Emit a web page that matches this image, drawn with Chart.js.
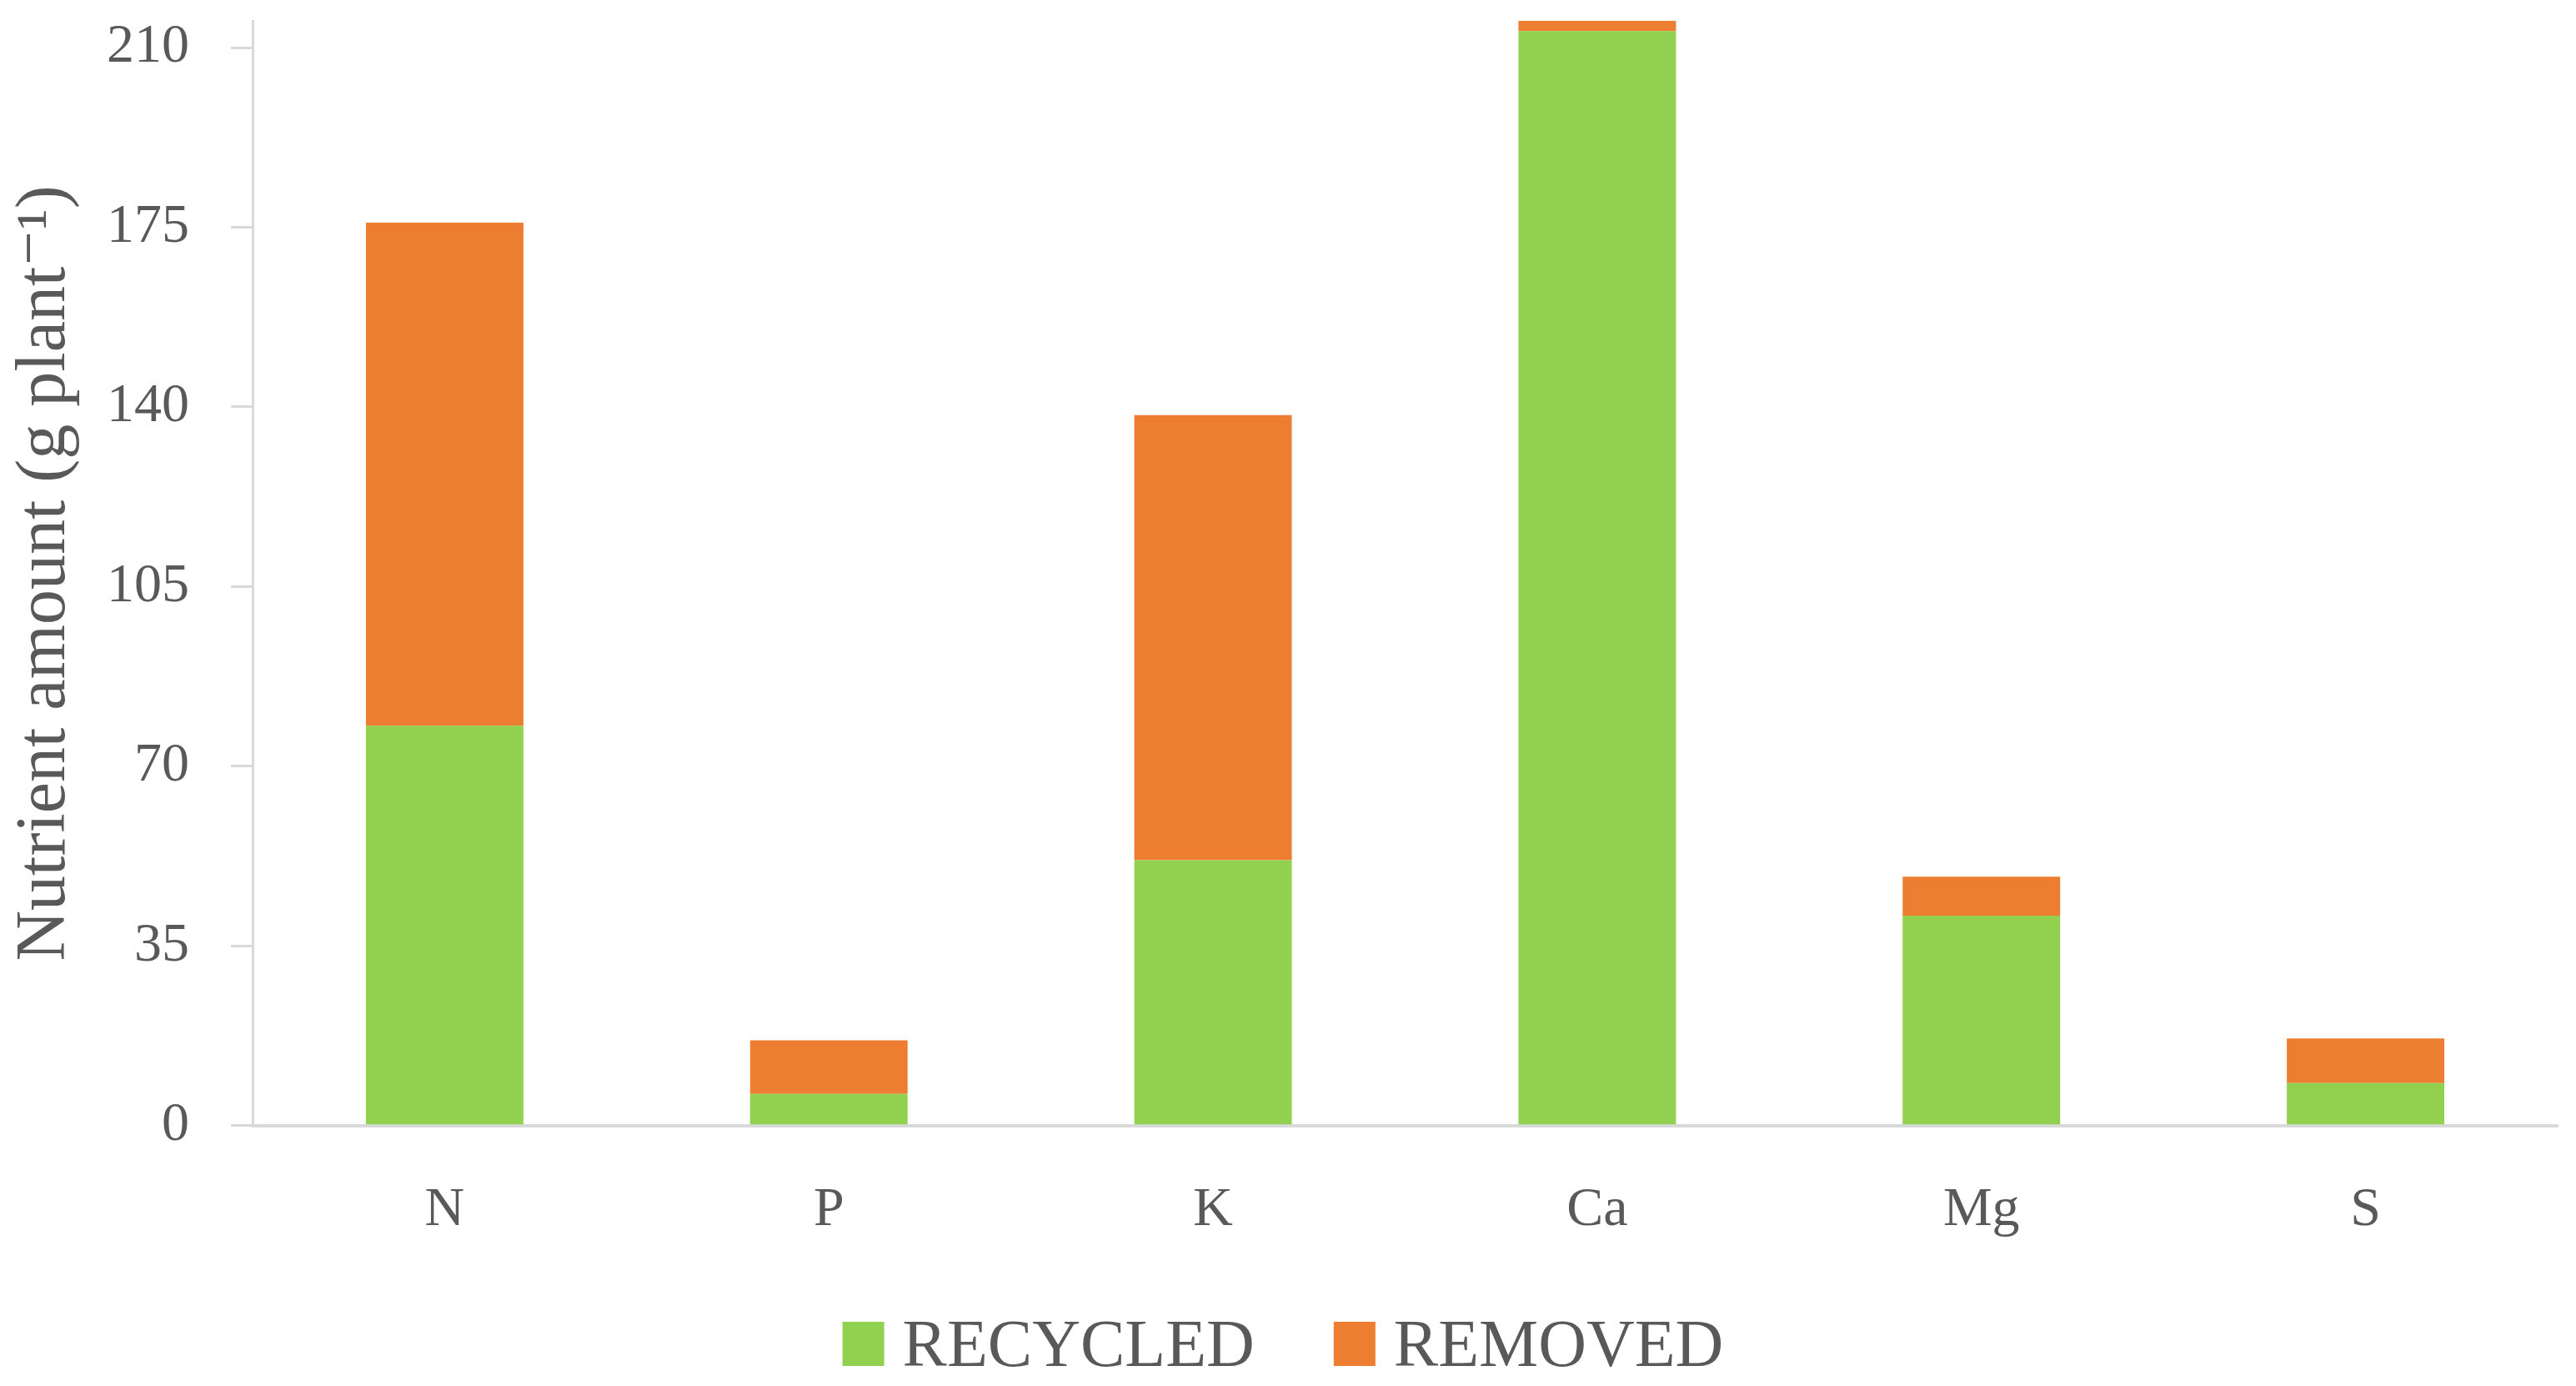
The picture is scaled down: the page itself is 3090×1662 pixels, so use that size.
<!DOCTYPE html>
<html>
<head>
<meta charset="utf-8">
<script src="https://cdn.jsdelivr.net/npm/chart.js@4.4.1/dist/chart.umd.min.js"></script>
<style>
  html, body { margin: 0; padding: 0; background: #fff; }
  #wrap { width: 3090px; height: 1662px; }
</style>
</head>
<body>
<div id="wrap"><canvas id="nutrientChart" width="3090" height="1662"></canvas></div>
<script>
const categories = ["N", "P", "K", "Ca", "Mg", "S"];
const recycled = [77.9, 6.2, 51.7, 213.2, 40.9, 8.3];
const removed = [98.0, 10.4, 86.7, 2.0, 7.6, 8.7];
const yTicks = [0, 35, 70, 105, 140, 175, 210];

const textColor = "#595959";
const axisColor = "#d9d9d9";
const serif = "'Liberation Serif', 'DejaVu Serif', serif";

const ctx = document.getElementById("nutrientChart").getContext("2d");

// legend drawn by hand so the box/text spacing matches the original
const bottomLegend = {
  id: "bottomLegend",
  afterDraw(chart) {
    const c = chart.ctx;
    const boxW = 50, boxH = 53, textGap = 22, itemGap = 95;
    c.save();
    c.font = "80px " + serif;
    const items = chart.data.datasets.map((ds) => ({
      label: ds.label,
      color: ds.backgroundColor,
      w: c.measureText(ds.label).width,
    }));
    let total = items.reduce((s, it) => s + boxW + textGap + it.w, 0) + itemGap * (items.length - 1);
    let x = chart.width / 2 - total / 2 - 6;
    const boxBottom = 1638;
    items.forEach((it) => {
      c.fillStyle = it.color;
      c.fillRect(x, boxBottom - boxH, boxW, boxH);
      c.fillStyle = textColor;
      c.textBaseline = "alphabetic";
      c.textAlign = "left";
      c.fillText(it.label, x + boxW + textGap, boxBottom);
      x += boxW + textGap + it.w + itemGap;
    });
    c.restore();
  },
};

new Chart(ctx, {
  type: "bar",
  data: {
    labels: categories,
    datasets: [
      {
        label: "RECYCLED",
        data: recycled,
        backgroundColor: "#92d050",
        borderWidth: 0,
        barPercentage: 0.41,
        categoryPercentage: 1,
      },
      {
        label: "REMOVED",
        data: removed,
        backgroundColor: "#ed7d31",
        borderWidth: 0,
        barPercentage: 0.41,
        categoryPercentage: 1,
      },
    ],
  },
  options: {
    responsive: false,
    animation: false,
    layout: {
      padding: { top: 25, right: 22, bottom: 109, left: 0 },
    },
    plugins: {
      legend: { display: false },
      tooltip: { enabled: false },
    },
    scales: {
      x: {
        stacked: true,
        grid: { display: false, drawTicks: false },
        border: { display: true, color: axisColor, width: 4 },
        ticks: {
          color: textColor,
          font: { family: serif, size: 66 },
          padding: 62,
        },
        afterFit: (scale) => {
          scale.paddingLeft = 0;
          scale.paddingRight = 0;
        },
      },
      y: {
        stacked: true,
        min: 0,
        max: 215.2,
        afterBuildTicks: (scale) => {
          scale.ticks = yTicks.map((v) => ({ value: v }));
        },
        afterFit: (scale) => {
          scale.width = 303;
          scale.paddingTop = 0;
          scale.paddingBottom = 0;
        },
        grid: {
          drawOnChartArea: false,
          drawTicks: true,
          tickLength: 26,
          color: axisColor,
          lineWidth: 3,
        },
        border: { display: true, color: axisColor, width: 3 },
        ticks: {
          color: textColor,
          font: { family: serif, size: 66 },
          padding: 50,
        },
        title: {
          display: true,
          text: "Nutrient amount (g plant\u207B\u00B9)",
          color: textColor,
          font: { family: serif, size: 84 },
          padding: { top: 5, bottom: 0 },
        },
      },
    },
  },
  plugins: [bottomLegend],
});
</script>
</body>
</html>
